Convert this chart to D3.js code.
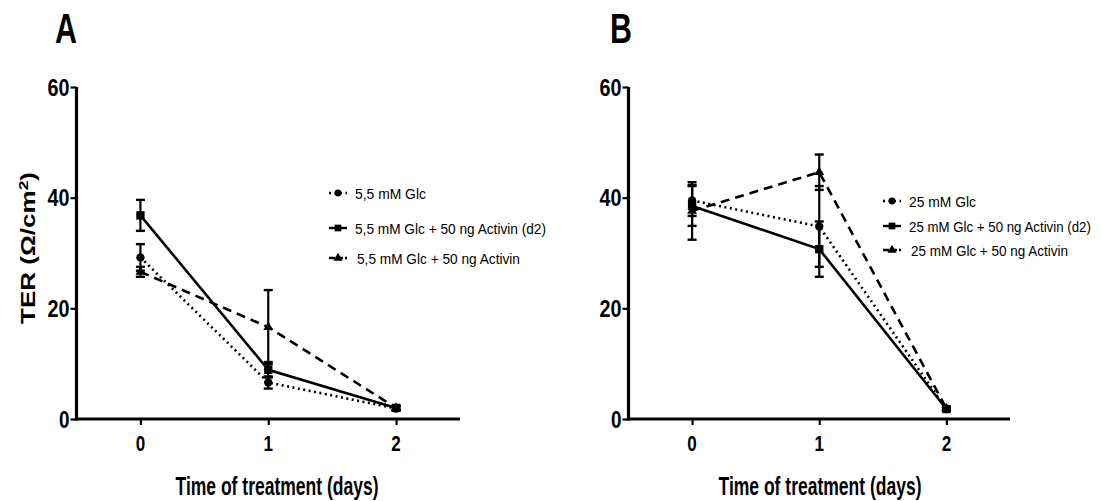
<!DOCTYPE html>
<html><head><meta charset="utf-8">
<script src="https://cdn.jsdelivr.net/npm/d3@7"></script>
<style>body{margin:0;background:#fff}svg{display:block}text{font-family:"Liberation Sans",Arial,sans-serif;fill:#000}</style>
</head><body>
<svg id="c" width="1101" height="501"></svg>
<script>
// ---- data ----
const days = [0, 1, 2];
const yTicks = [0, 20, 40, 60];
const namesA = ["5,5 mM Glc", "5,5 mM Glc + 50 ng Activin (d2)", "5,5 mM Glc + 50 ng Activin"];
const namesB = ["25 mM Glc", "25 mM Glc + 50 ng Activin (d2)", "25 mM Glc + 50 ng Activin"];
const aGlc = [29.2, 6.6, 1.9], aGlcErr = [2.4, 1.1, 0.4];
const aD2 = [36.8, 8.9, 2.0], aD2Err = [2.8, 1.4, 0.4];
const aAct = [26.6, 16.6, 2.0], aActErr = [0.9, 6.7, 0.3];
const bGlc = [39.5, 34.8, 1.8], bGlcErr = [2.8, 7.3, 0.3];
const bD2 = [38.5, 30.7, 1.8], bD2Err = [3.6, 5.0, 0.3];
const bAct = [37.6, 44.6, 1.9], bActErr = [5.2, 3.2, 0.3];

const styles = [
  {dash: "2,3.5", sym: d3.symbolCircle, size: 55},
  {dash: null, sym: d3.symbolSquare, size: 70},
  {dash: "9,6", sym: d3.symbolTriangle, size: 42}
];

const svg = d3.select("#c");

// text squeezed horizontally to a target width via a transform
function txt(g, s, x, y, size, weight, width, anchor) {
  const t = g.append("text").attr("font-size", size)
    .attr("font-weight", weight).attr("text-anchor", anchor || "start").text(s);
  let sx = 1;
  if (width) sx = width / t.node().getComputedTextLength();
  t.attr("transform", `translate(${x},${y}) scale(${sx},1)`);
  return t;
}

function panel(cfg) {
  const x = d3.scaleLinear().domain([-0.5, 2.5]).range([cfg.x0, cfg.x1]);
  const y = d3.scaleLinear().domain([0, 60]).range([419, 87]);
  const g = svg.append("g");

  const ya = g.append("g").attr("transform", `translate(${cfg.x0},0)`)
    .call(d3.axisLeft(y).tickValues(yTicks).tickSize(6).tickFormat(""));
  ya.select(".domain").attr("stroke-width", 3.2).attr("d", `M0,${y(60)}V${y(0)+1.5}`);
  ya.selectAll(".tick line").attr("stroke-width", 2.2);
  const xa = g.append("g").attr("transform", `translate(0,419)`)
    .call(d3.axisBottom(x).tickValues(days).tickSize(6).tickFormat(""));
  xa.select(".domain").attr("stroke-width", 3.2).attr("d", `M${cfg.x0-1.5},0H${cfg.x1}`);
  xa.selectAll(".tick line").attr("stroke-width", 2.2);

  yTicks.forEach(v => txt(g, String(v), cfg.x0 - 7, y(v) + 8.5, 24, "bold", v === 0 ? 10.5 : 22, "end"));
  days.forEach(v => txt(g, String(v), x(v), 450.5, 22, "bold", 9.5, "middle"));

  txt(g, "Time of treatment (days)", cfg.xlabC, 495, 26, "bold", 203, "middle");
  txt(g, cfg.title, cfg.titleX, 43, 42, "bold", 22, "start");

  cfg.series.forEach((s, i) => {
    const st = styles[i];
    const pts = days.map((d, j) => ({d, v: s.v[j], e: s.e[j]}));
    g.append("path").datum(pts)
      .attr("d", d3.line().x(p => x(p.d)).y(p => y(p.v)))
      .attr("fill", "none").attr("stroke", "#000").attr("stroke-width", 2.6)
      .attr("stroke-dasharray", st.dash);
    pts.forEach(p => {
      const cx = x(p.d), t = y(p.v + p.e), b = y(p.v - p.e);
      g.append("line").attr("x1", cx).attr("x2", cx).attr("y1", t).attr("y2", b)
        .attr("stroke", "#000").attr("stroke-width", 2.2);
      [t, b].forEach(yy => g.append("line").attr("x1", cx - 4.5).attr("x2", cx + 4.5)
        .attr("y1", yy).attr("y2", yy).attr("stroke", "#000").attr("stroke-width", 2.4));
      g.append("path").attr("d", d3.symbol().type(st.sym).size(st.size)())
        .attr("transform", `translate(${cx},${y(p.v)})`).attr("fill", "#000");
    });
  });

  cfg.names.forEach((n, i) => {
    const st = styles[i];
    const ly = cfg.legY[i];
    g.append("line").attr("x1", cfg.legX - 9).attr("x2", cfg.legX + 9).attr("y1", ly).attr("y2", ly)
      .attr("stroke", "#000").attr("stroke-width", 2.4).attr("stroke-dasharray", i === 0 ? "2,3.5" : (i === 2 ? "6,2" : null));
    g.append("path").attr("d", d3.symbol().type(st.sym).size(i === 1 ? 45 : 36)())
      .attr("transform", `translate(${cfg.legX},${ly})`).attr("fill", "#000");
    txt(g, n, cfg.legTX[i], ly + 6, 15.5, "normal", cfg.legW[i], "start");
  });
}

panel({
  x0: 76.5, x1: 460, title: "A", titleX: 55, xlabC: 277,
  names: namesA,
  series: [{v: aGlc, e: aGlcErr}, {v: aD2, e: aD2Err}, {v: aAct, e: aActErr}],
  legX: 338, legY: [193, 228, 258], legTX: [355, 355, 357], legW: [71, 191, 163]
});
panel({
  x0: 628.5, x1: 1010, title: "B", titleX: 610, xlabC: 820,
  names: namesB,
  series: [{v: bGlc, e: bGlcErr}, {v: bD2, e: bD2Err}, {v: bAct, e: bActErr}],
  legX: 892, legY: [201, 226, 250], legTX: [909, 909, 911], legW: [67, 182, 157]
});

const yl = svg.append("text").attr("font-size", 24).attr("font-weight", "bold").attr("text-anchor", "middle");
yl.append("tspan").text("TER (Ω/cm");
yl.append("tspan").attr("baseline-shift", "super").attr("font-size", 16).text("2");
yl.append("tspan").text(")");
const ylS = 152 / yl.node().getComputedTextLength();
yl.attr("transform", `translate(35,248) scale(0.85,1) rotate(-90) scale(${ylS},1)`);
</script>
</body></html>
